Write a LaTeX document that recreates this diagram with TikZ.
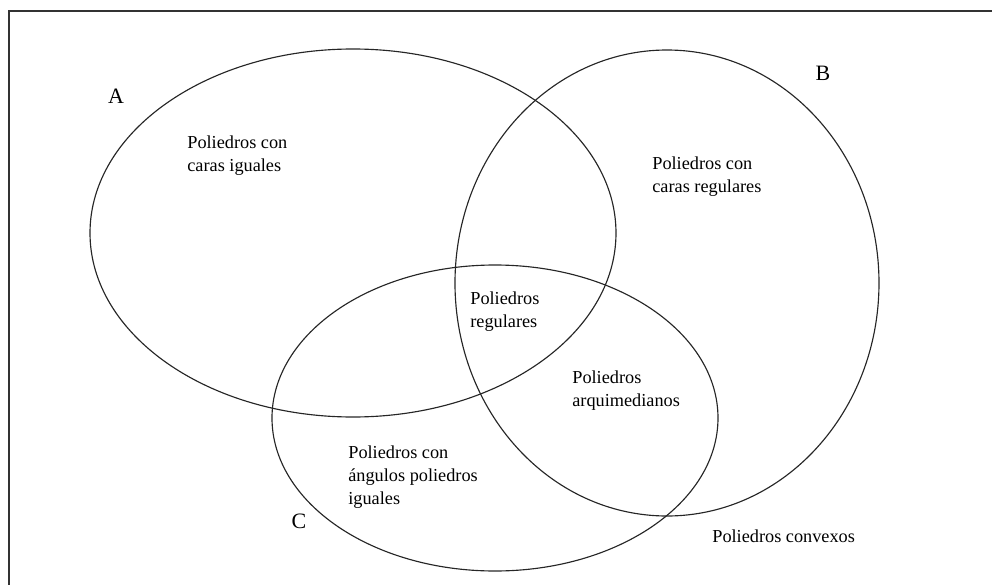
\documentclass[tikz,border=0pt]{standalone}
\usepackage{fontspec}
\setmainfont{Liberation Serif}
\usepackage{xcolor}
\usetikzlibrary{positioning}

\begin{document}
\begin{tikzpicture}[x=0.02cm, y=-0.02cm,
        set/.style={black!85, line width=0.65pt},
        region/.style={anchor=west, align=left, inner sep=0pt, font=\fontsize{10.4}{13.2}\selectfont},
        setname/.style={inner sep=0pt, font=\fontsize{12.5}{14}\selectfont}]
            \useasboundingbox (0,0) rectangle (992,585);
            \clip (0,0) rectangle (992,585);

            % Draw the frame
            \draw[black!80, line width=1pt] (9,11) rectangle (1010,610);

            % Draw the three sets
            \draw[set] (353,233) ellipse [x radius=263, y radius=184];
            \draw[set] (667,283) ellipse [x radius=212, y radius=233];
            \draw[set] (495,418) ellipse [x radius=223, y radius=153];

            % Set names
            \node[setname] (nameA) at (116,96) {A};
            \node[setname] (nameB) at (823,73) {B};
            \node[setname] (nameC) at (299,521) {C};

            % Regions
            \node[region] (caras) at (187,156) {Poliedros con\\caras iguales};
            \node[region] (carasreg) at (652,177) {Poliedros con\\caras regulares};
            \node[region] (regulares) at (470,312) {Poliedros\\regulares};
            \node[region] (arqui) at (572,391) {Poliedros\\arquimedianos};
            \node[region] (angulos) at (348,477) {Poliedros con\\ángulos poliedros\\iguales};
            \node[region] (convexos) at (712,536) {Poliedros convexos};

        \end{tikzpicture}
\end{document}
